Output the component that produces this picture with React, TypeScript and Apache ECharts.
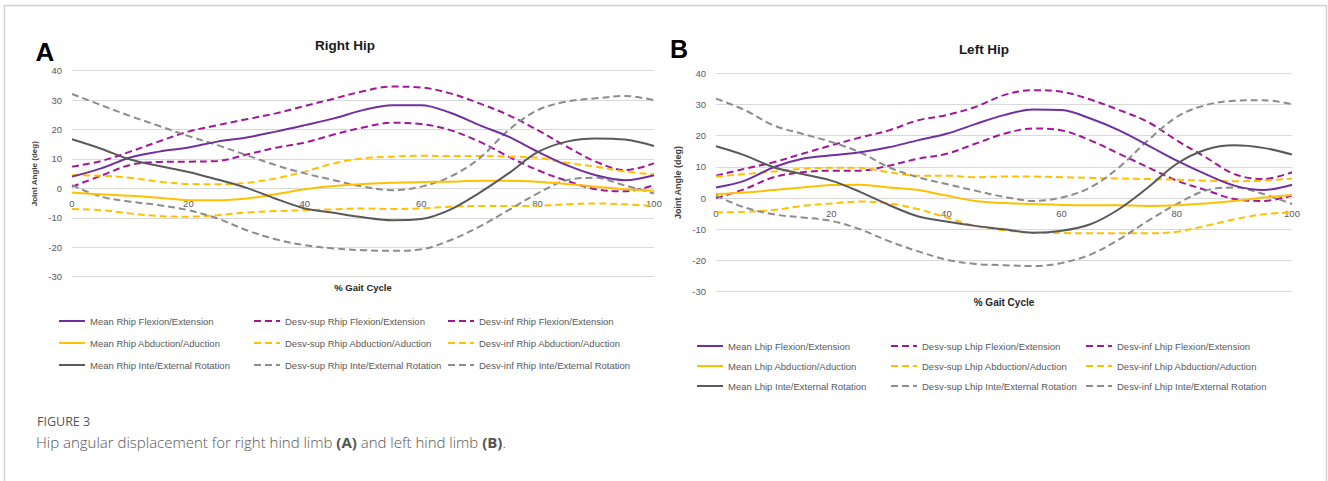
import React, { useEffect, useRef } from "react";
import * as echarts from "echarts";

// % gait cycle sample positions
const X = [0, 5, 10, 15, 20, 25, 30, 35, 40, 45, 50, 55, 60, 65, 70, 75, 80, 85, 90, 95, 100];
const X_TICKS = [0, 20, 40, 60, 80, 100];
const Y_TICKS = [-30, -20, -10, 0, 10, 20, 30, 40];

// Right hip (A)
const R_FLEX_MEAN = [4.0, 6.8, 10.5, 12.5, 13.9, 15.9, 17.3, 19.3, 21.5, 23.8, 26.6, 28.3, 28.3, 25.7, 21.5, 17.6, 12.5, 7.9, 4.5, 2.8, 4.5];
const R_FLEX_SUP = [7.4, 9.3, 12.5, 16.0, 19.3, 21.5, 23.5, 25.5, 28.0, 30.5, 33.0, 34.6, 34.3, 32.3, 28.9, 24.9, 19.8, 14.2, 9.1, 6.2, 8.5];
const R_FLEX_INF = [0.6, 4.3, 8.0, 9.0, 9.1, 9.3, 11.5, 13.8, 15.6, 18.3, 20.7, 22.3, 21.9, 19.8, 15.9, 10.8, 6.2, 2.6, -0.3, -1.0, 1.1];
const R_ABD_MEAN = [-1.4, -2.0, -2.5, -3.2, -4.0, -4.0, -3.4, -2.0, -0.3, 0.8, 1.5, 1.9, 2.2, 2.3, 2.6, 2.6, 2.3, 1.5, 0.6, -0.3, -0.8];
const R_ABD_SUP = [4.5, 4.3, 3.6, 2.3, 1.5, 1.4, 1.9, 3.4, 5.7, 8.5, 10.2, 10.8, 11.1, 11.0, 11.0, 10.8, 10.4, 8.7, 7.4, 5.7, 4.8];
const R_ABD_INF = [-7.0, -7.4, -8.5, -9.4, -9.6, -9.1, -8.2, -7.7, -7.4, -7.1, -6.8, -7.0, -6.8, -6.2, -6.0, -6.0, -5.9, -5.4, -5.1, -5.4, -6.0];
const R_ROT_MEAN = [16.7, 13.5, 9.8, 7.6, 5.6, 3.0, 0.2, -3.5, -6.8, -8.3, -9.8, -10.8, -10.4, -7.2, -1.5, 5.1, 12.3, 15.9, 17.0, 16.6, 14.4];
const R_ROT_SUP = [32.1, 28.3, 24.6, 21.2, 17.8, 14.7, 11.3, 7.9, 5.1, 2.8, 0.6, -0.6, 0.6, 4.0, 10.2, 19.8, 26.6, 29.5, 30.6, 31.4, 30.0];
const R_ROT_INF = [1.1, -2.8, -4.5, -5.7, -7.4, -10.2, -14.2, -17.3, -19.3, -20.4, -21.0, -21.2, -20.7, -17.6, -13.0, -7.4, -1.7, 2.8, 3.6, 1.0, -1.7];

// Left hip (B)
const L_FLEX_MEAN = [3.4, 5.6, 9.9, 12.6, 13.7, 14.7, 16.3, 18.5, 20.6, 23.7, 26.6, 28.4, 28.2, 25.5, 21.7, 16.9, 12.0, 7.7, 4.0, 2.6, 4.3];
const L_FLEX_SUP = [7.2, 9.4, 11.5, 14.2, 16.9, 19.4, 21.7, 24.9, 26.6, 29.2, 33.0, 34.6, 34.1, 31.6, 28.2, 24.4, 18.5, 13.1, 7.7, 6.1, 8.3];
const L_FLEX_INF = [0.0, 2.9, 6.7, 8.3, 8.8, 8.8, 10.4, 12.6, 14.2, 17.4, 20.6, 22.3, 21.7, 18.5, 14.2, 9.9, 5.6, 2.6, -0.3, -0.9, 0.8];
const L_ABD_MEAN = [1.3, 1.8, 2.6, 3.4, 4.2, 4.3, 3.4, 2.6, 0.8, -0.9, -1.6, -1.9, -2.2, -2.3, -2.3, -2.5, -2.3, -1.7, -0.9, 0.2, 1.0];
const L_ABD_SUP = [6.9, 7.7, 8.5, 9.4, 9.7, 9.7, 8.3, 7.2, 7.2, 6.7, 6.9, 6.9, 6.7, 6.5, 6.3, 6.1, 5.9, 5.6, 5.4, 5.6, 6.3];
const L_ABD_INF = [-4.6, -4.4, -3.8, -2.5, -1.7, -1.1, -1.7, -3.5, -6.2, -8.9, -10.3, -11.1, -11.2, -11.3, -11.3, -11.3, -10.8, -8.9, -6.8, -5.2, -4.6];
const L_ROT_MEAN = [16.6, 13.7, 9.9, 7.7, 5.6, 2.0, -2.2, -5.8, -7.5, -8.9, -10.0, -11.1, -10.5, -8.4, -3.5, 3.4, 11.0, 15.5, 16.9, 16.1, 14.0];
const L_ROT_SUP = [31.9, 28.2, 23.3, 20.6, 18.0, 14.7, 9.9, 6.7, 4.5, 2.4, 0.4, -0.9, 0.2, 3.4, 9.9, 18.5, 26.0, 29.8, 31.2, 31.4, 30.1];
const L_ROT_INF = [0.8, -3.0, -5.2, -6.2, -7.3, -10.0, -13.8, -17.0, -19.7, -21.1, -21.5, -21.8, -20.8, -18.1, -13.2, -7.3, -1.9, 2.4, 3.4, 1.3, -1.9];

const R_NAMES = [
  "Mean Rhip Flexion/Extension", "Desv-sup Rhip Flexion/Extension", "Desv-inf Rhip Flexion/Extension",
  "Mean Rhip Abduction/Aduction", "Desv-sup Rhip Abduction/Aduction", "Desv-inf Rhip Abduction/Aduction",
  "Mean Rhip Inte/External Rotation", "Desv-sup Rhip Inte/External Rotation", "Desv-inf Rhip Inte/External Rotation",
];
const L_NAMES = [
  "Mean Lhip Flexion/Extension", "Desv-sup Lhip Flexion/Extension", "Desv-inf Lhip Flexion/Extension",
  "Mean Lhip Abduction/Aduction", "Desv-sup Lhip Abduction/Aduction", "Desv-inf Lhip Abduction/Aduction",
  "Mean Lhip Inte/External Rotation", "Desv-sup Lhip Inte/External Rotation", "Desv-inf Lhip Inte/External Rotation",
];
const R_VALUES = [R_FLEX_MEAN, R_FLEX_SUP, R_FLEX_INF, R_ABD_MEAN, R_ABD_SUP, R_ABD_INF, R_ROT_MEAN, R_ROT_SUP, R_ROT_INF];
const L_VALUES = [L_FLEX_MEAN, L_FLEX_SUP, L_FLEX_INF, L_ABD_MEAN, L_ABD_SUP, L_ABD_INF, L_ROT_MEAN, L_ROT_SUP, L_ROT_INF];

const STYLES = [
  { color: "#7030A0", dashed: false }, { color: "#A0189A", dashed: true }, { color: "#A0189A", dashed: true },
  { color: "#FFC000", dashed: false }, { color: "#FFC000", dashed: true }, { color: "#FFC000", dashed: true },
  { color: "#595959", dashed: false }, { color: "#8C8C8C", dashed: true }, { color: "#8C8C8C", dashed: true },
];

const FONT = "'Liberation Sans', Arial, sans-serif";
const GRID_COLOR = "#d9d9d9";
const LABEL_COLOR = "#595959";

export default function App() {
  const ref = useRef<HTMLDivElement>(null);

  useEffect(() => {
    if (!ref.current) return;
    const chart = echarts.init(ref.current, null, { renderer: "svg" });

    const grids = [
      { left: 72, top: 70.7, width: 582, height: 206 },
      { left: 716, top: 73.3, width: 576, height: 218.4 },
    ];
    const yMin = Y_TICKS[0];
    const yMax = Y_TICKS[Y_TICKS.length - 1];
    // shift the category labels up to the zero line (Excel style axis crossing at 0)
    const zeroOffset = grids.map((g) => -(g.height * (0 - yMin)) / (yMax - yMin));

    const makeSeries = (names: string[], values: number[][], idx: number) =>
      names.map((name, i) => ({
        name,
        type: "line",
        xAxisIndex: idx,
        yAxisIndex: idx,
        data: X.map((x, k) => [x, values[i][k]]),
        smooth: 0.35,
        symbol: "none",
        z: STYLES[i].dashed ? 2 : 3,
        lineStyle: {
          color: STYLES[i].color,
          width: 2,
          type: STYLES[i].dashed ? [7, 4] : "solid",
        },
        itemStyle: { color: STYLES[i].color },
      }));

    const legendCols = [
      [58, 253, 447],
      [696, 890, 1085],
    ];
    const legendRows = [
      [322, 344, 366],
      [347, 367, 387],
    ];
    const legends: any[] = [];
    [R_NAMES, L_NAMES].forEach((names, c) => {
      names.forEach((name, i) => {
        const row = Math.floor(i / 3);
        const col = i % 3;
        legends.push({
          data: [name],
          left: legendCols[c][col],
          top: legendRows[c][row] - 6,
          padding: 0,
          itemWidth: 26,
          itemHeight: 10,
          itemGap: 4,
          selectedMode: false,
          itemStyle: { opacity: 0, borderWidth: 0 },
          textStyle: { fontSize: 9.5, color: LABEL_COLOR, fontFamily: FONT },
        });
      });
    });

    const axisLabel = { color: LABEL_COLOR, fontSize: 9.5, fontFamily: FONT };

    chart.setOption({
      animation: false,
      backgroundColor: "#ffffff",
      grid: grids,
      xAxis: [0, 1].map((i) => ({
        type: "value",
        gridIndex: i,
        min: X_TICKS[0],
        max: X_TICKS[X_TICKS.length - 1],
        interval: 20,
        offset: zeroOffset[i],
        axisLine: { show: false, onZero: false },
        axisTick: { show: false },
        splitLine: { show: false },
        axisLabel: { ...axisLabel, margin: 10 },
      })),
      yAxis: [0, 1].map((i) => ({
        type: "value",
        gridIndex: i,
        min: yMin,
        max: yMax,
        interval: 10,
        axisLine: { show: false, onZero: false },
        axisTick: { show: false },
        splitLine: { lineStyle: { color: GRID_COLOR, width: 1 } },
        axisLabel: { ...axisLabel, margin: 10 },
        name: "Joint Angle (deg)",
        nameLocation: "middle",
        nameGap: 34,
        nameTextStyle: { fontSize: i === 0 ? 8 : 9, fontWeight: "bold", color: "#404040", fontFamily: FONT },
      })),
      legend: legends,
      series: [...makeSeries(R_NAMES, R_VALUES, 0), ...makeSeries(L_NAMES, L_VALUES, 1)],
      graphic: [
        {
          type: "rect",
          shape: { x: 4.5, y: 5.5, width: 1322, height: 520 },
          style: { fill: "none", stroke: "#d0d0d0", lineWidth: 1.5 },
          silent: true,
        },
        { type: "text", x: 45, y: 52, style: { text: "A", font: `bold 26px ${FONT}`, fill: "#000", textAlign: "center", textVerticalAlign: "middle" } },
        { type: "text", x: 679, y: 49, style: { text: "B", font: `bold 25px ${FONT}`, fill: "#000", textAlign: "center", textVerticalAlign: "middle" } },
        { type: "text", x: 345, y: 45, style: { text: "Right Hip", font: `bold 13.5px ${FONT}`, fill: "#1a1a1a", textAlign: "center", textVerticalAlign: "middle" } },
        { type: "text", x: 984, y: 49, style: { text: "Left Hip", font: `bold 13.5px ${FONT}`, fill: "#1a1a1a", textAlign: "center", textVerticalAlign: "middle" } },
        { type: "text", x: 363, y: 287, style: { text: "% Gait Cycle", font: `bold 9.5px ${FONT}`, fill: "#262626", textAlign: "center", textVerticalAlign: "middle" } },
        { type: "text", x: 1004, y: 302, style: { text: "% Gait Cycle", font: `bold 10px ${FONT}`, fill: "#262626", textAlign: "center", textVerticalAlign: "middle" } },
        { type: "text", x: 37, y: 421, style: { text: "FIGURE 3", font: `12.5px 'Open Sans', ${FONT}`, fill: "#555555", textAlign: "left", textVerticalAlign: "middle" } },
        {
          type: "text",
          x: 36,
          y: 442,
          style: {
            text: "{n|Hip angular displacement for right hind limb }{b|(A)}{n| and left hind limb }{b|(B)}{n|.}",
            textAlign: "left",
            textVerticalAlign: "middle",
            rich: {
              n: { fontSize: 15, fontFamily: "'Open Sans', sans-serif", fontWeight: 300, fill: "#555555", color: "#555555" },
              b: { fontSize: 15, fontFamily: "'Open Sans', sans-serif", fontWeight: "bold", fill: "#555555", color: "#555555" },
            },
          },
        },
      ],
    });

    return () => chart.dispose();
  }, []);

  return (
    <div
      ref={ref}
      style={{ position: "fixed", left: 0, top: 0, width: 1328, height: 481, background: "#fff" }}
    />
  );
}
